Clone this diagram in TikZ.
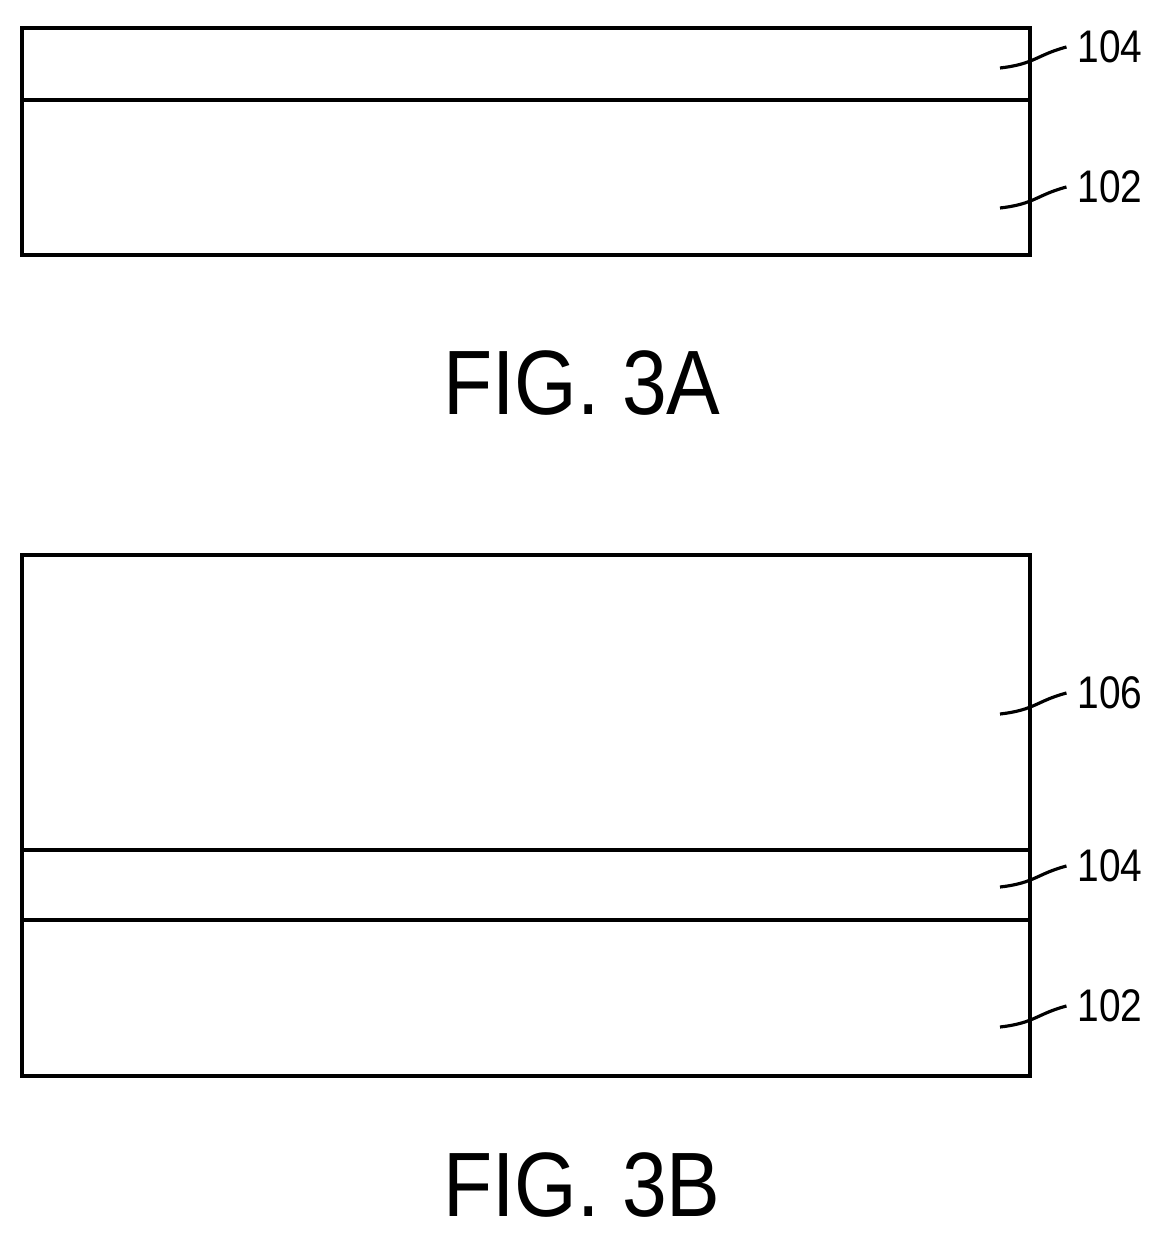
\documentclass[tikz,border=0pt]{standalone}
\usepackage{fontspec}
\setmainfont{Liberation Sans}
\usetikzlibrary{positioning}
\tikzset{
  layer/.style={draw, line width=1pt},
  refnum/.style={font=\fontsize{13}{13}\selectfont, xscale=0.85, anchor=west, inner sep=0pt},
  caption/.style={font=\fontsize{26}{26}\selectfont, xscale=0.88},
  leader/.style={line width=0.9pt}
}
\newcommand{\leadto}[2]{\draw[leader] (#1) .. controls +(35,-4) and +(-30,8) .. ([xshift=-3]#2.west);}
\begin{document}
\begin{tikzpicture}[x=0.01cm,y=-0.01cm]
    \useasboundingbox (0,0) rectangle (1158,1237);

    % FIG. 3A
    \draw[layer] (22,28) rectangle (1030,255);
    \draw[layer] (22,100) -- (1030,100);
    \node[refnum] (a104) at (1077,47) {104};
    \node[refnum] (a102) at (1077,187) {102};
    \coordinate (sa104) at (1000,68);
    \coordinate (sa102) at (1000,208);
    \leadto{sa104}{a104}
    \leadto{sa102}{a102}
    \node[caption] (capA) at (582,383) {FIG. 3A};

    % FIG. 3B
    \draw[layer] (22,555) rectangle (1030,1076);
    \draw[layer] (22,850) -- (1030,850);
    \draw[layer] (22,920) -- (1030,920);
    \node[refnum] (b106) at (1077,693) {106};
    \node[refnum] (b104) at (1077,866) {104};
    \node[refnum] (b102) at (1077,1006) {102};
    \coordinate (sb106) at (1000,714);
    \coordinate (sb104) at (1000,887);
    \coordinate (sb102) at (1000,1027);
    \leadto{sb106}{b106}
    \leadto{sb104}{b104}
    \leadto{sb102}{b102}
    \node[caption] (capB) at (582,1185) {FIG. 3B};
\end{tikzpicture}
\end{document}
